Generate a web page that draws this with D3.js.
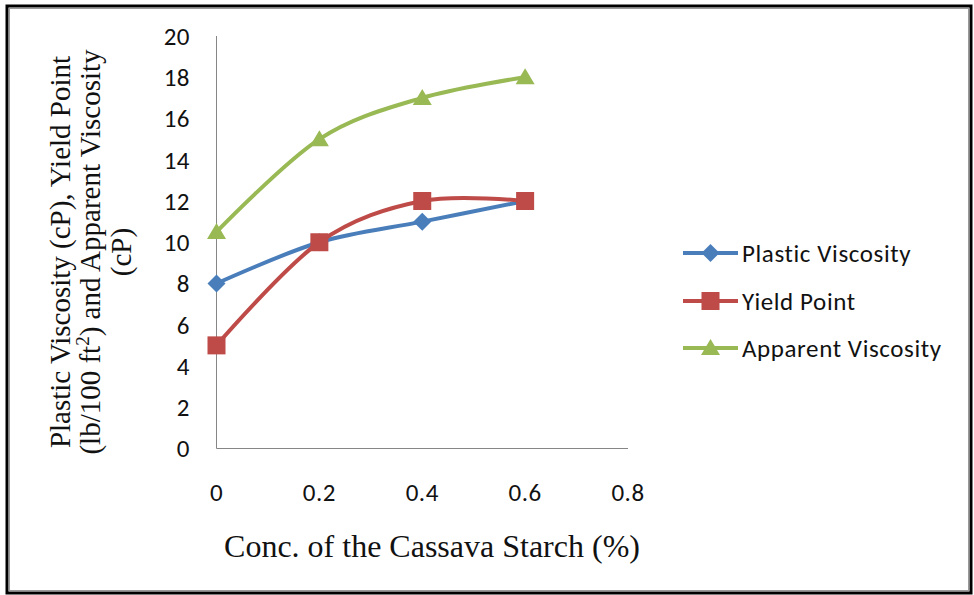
<!DOCTYPE html>
<html lang="en">
  <head>
    <meta charset="UTF-8" />
    <title>Cassava Starch Rheology</title>
    <script src="https://cdnjs.cloudflare.com/ajax/libs/d3/7.8.5/d3.min.js"></script>
    <style>
      body { margin: 0; background: #fff; }
      svg { display: block; }
    </style>
  </head>
  <body>
    <div id="chart"></div>
    <script>
      // Data
      const conc = [0, 0.2, 0.4, 0.6];
      const plasticViscosity = [8, 10, 11, 12];
      const yieldPoint = [5, 10, 12, 12];
      const apparentViscosity = [10.5, 15, 17, 18];
      const yTicks = [0, 2, 4, 6, 8, 10, 12, 14, 16, 18, 20];
      const xTicks = [0, 0.2, 0.4, 0.6, 0.8];

      const series = [
        { name: "Plastic Viscosity", values: plasticViscosity, color: "#4a7ebb", marker: "diamond" },
        { name: "Yield Point", values: yieldPoint, color: "#be4b48", marker: "square" },
        { name: "Apparent Viscosity", values: apparentViscosity, color: "#98b954", marker: "triangle" },
      ];

      const width = 974;
      const height = 595;

      const svg = d3
        .select("#chart")
        .append("svg")
        .attr("width", width)
        .attr("height", height);

      // outer frame
      svg.append("rect")
        .attr("x", 7).attr("y", 6)
        .attr("width", 964).attr("height", 587)
        .attr("fill", "none")
        .attr("stroke", "#000")
        .attr("stroke-width", 3);
      svg.append("rect")
        .attr("x", 9.5).attr("y", 8.5)
        .attr("width", 959).attr("height", 582)
        .attr("fill", "none")
        .attr("stroke", "#999")
        .attr("stroke-width", 1);

      const x = d3.scaleLinear().domain([0, 0.8]).range([216.5, 628]);
      const y = d3.scaleLinear().domain([0, 20]).range([448.5, 36]);

      // axes lines
      svg.append("line")
        .attr("x1", x(0)).attr("x2", x(0))
        .attr("y1", y(20)).attr("y2", y(0))
        .attr("stroke", "#868686");
      svg.append("line")
        .attr("x1", x(0)).attr("x2", x(0.8))
        .attr("y1", y(0)).attr("y2", y(0))
        .attr("stroke", "#868686");

      const tickFont = "Carlito, 'Liberation Sans', sans-serif";

      svg.selectAll(".ytick")
        .data(yTicks)
        .join("text")
        .attr("class", "ytick")
        .attr("x", 190)
        .attr("y", (d) => y(d))
        .attr("dy", "0.35em")
        .attr("text-anchor", "end")
        .attr("font-family", tickFont)
        .attr("font-size", 25)
        .attr("letter-spacing", 0.5)
        .attr("fill", "#111")
        .text((d) => d);

      svg.selectAll(".xtick")
        .data(xTicks)
        .join("text")
        .attr("class", "xtick")
        .attr("x", (d) => x(d))
        .attr("y", 492)
        .attr("dy", "0.35em")
        .attr("text-anchor", "middle")
        .attr("font-family", tickFont)
        .attr("font-size", 25)
        .attr("letter-spacing", 0.5)
        .attr("fill", "#111")
        .text((d) => d);

      // axis titles
      const serif = "'Liberation Serif', 'DejaVu Serif', serif";
      svg.append("text")
        .attr("x", 432)
        .attr("y", 546)
        .attr("dy", "0.35em")
        .attr("text-anchor", "middle")
        .attr("font-family", serif)
        .attr("font-size", 32)
        .attr("fill", "#111")
        .text("Conc. of the Cassava Starch (%)");

      const yTitle = svg.append("g")
        .attr("transform", "translate(0,252) rotate(-90)")
        .attr("font-family", serif)
        .attr("font-size", 29)
        .attr("fill", "#111")
        .attr("text-anchor", "middle");
      yTitle.append("text").attr("x", 0).attr("y", 70)
        .text("Plastic Viscosity (cP), Yield Point");
      const l2 = yTitle.append("text").attr("x", 0).attr("y", 100);
      l2.append("tspan").text("(lb/100 ft");
      l2.append("tspan").attr("font-size", 19).attr("dy", -11).text("2");
      l2.append("tspan").attr("dy", 11).text(") and Apparent Viscosity");
      yTitle.append("text").attr("x", 0).attr("y", 131).text("(cP)");

      // lines
      const line = d3.line()
        .x((d) => x(d[0]))
        .y((d) => y(d[1]))
        .curve(d3.curveCatmullRom.alpha(0));

      function drawMarker(g, type, cx, cy, color) {
        if (type === "diamond") {
          g.append("path")
            .attr("d", `M${cx},${cy - 9}L${cx + 9},${cy}L${cx},${cy + 9}L${cx - 9},${cy}Z`)
            .attr("fill", color);
        } else if (type === "square") {
          g.append("rect")
            .attr("x", cx - 9).attr("y", cy - 9)
            .attr("width", 18).attr("height", 18)
            .attr("fill", color);
        } else {
          g.append("path")
            .attr("d", `M${cx},${cy - 9}L${cx + 9.5},${cy + 7}L${cx - 9.5},${cy + 7}Z`)
            .attr("fill", color);
        }
      }

      series.forEach((s) => {
        const pts = conc.map((c, i) => [c, s.values[i]]);
        svg.append("path")
          .datum(pts)
          .attr("d", line)
          .attr("fill", "none")
          .attr("stroke", s.color)
          .attr("stroke-width", 4)
          .attr("stroke-linejoin", "round");
        const g = svg.append("g");
        pts.forEach((p) => drawMarker(g, s.marker, x(p[0]), y(p[1]), s.color));
      });

      // legend
      const legendY = [253, 301, 348];
      series.forEach((s, i) => {
        const g = svg.append("g");
        g.append("line")
          .attr("x1", 683).attr("x2", 738)
          .attr("y1", legendY[i]).attr("y2", legendY[i])
          .attr("stroke", s.color)
          .attr("stroke-width", 4);
        drawMarker(g, s.marker, 710.5, legendY[i], s.color);
        g.append("text")
          .attr("x", 742)
          .attr("y", legendY[i])
          .attr("dy", "0.35em")
          .attr("font-family", tickFont)
          .attr("font-size", 25)
          .attr("letter-spacing", 0.6)
          .attr("fill", "#111")
          .text(s.name);
      });
    </script>
  </body>
</html>
